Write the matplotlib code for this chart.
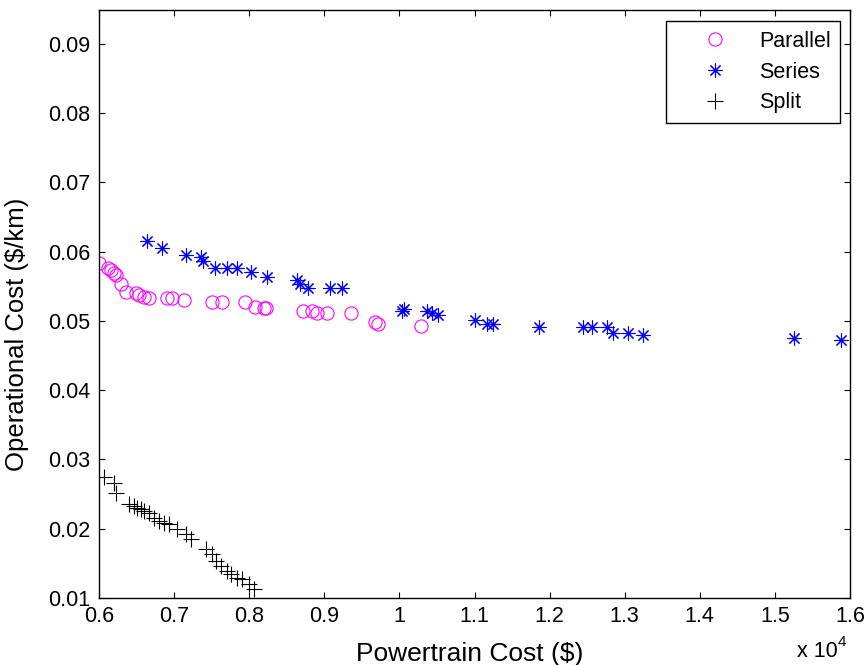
import numpy as np
import matplotlib
matplotlib.use("Agg")
import matplotlib.pyplot as plt

plt.rcParams['font.family'] = ['Liberation Sans', 'DejaVu Sans']

# powertrain cost in units of 1e4 $, operational cost in $/km
par_x = [0.600, 0.612, 0.616, 0.620, 0.623, 0.629, 0.636, 0.649, 0.653, 0.660,
         0.667, 0.691, 0.697, 0.713, 0.750, 0.764, 0.794, 0.808, 0.820, 0.823,
         0.871, 0.883, 0.890, 0.903, 0.936, 0.967, 0.971, 1.029]
par_y = [0.0583, 0.0577, 0.0573, 0.0569, 0.0566, 0.0554, 0.0542, 0.0540, 0.0538, 0.0535,
         0.0533, 0.0533, 0.0533, 0.0530, 0.0527, 0.0527, 0.0527, 0.0520, 0.0518, 0.0518,
         0.0514, 0.0515, 0.0512, 0.0512, 0.0512, 0.0498, 0.0496, 0.0492]

ser_x = [0.664, 0.684, 0.716, 0.736, 0.739, 0.754, 0.770, 0.784, 0.803, 0.824,
         0.863, 0.867, 0.878, 0.907, 0.923, 1.003, 1.006, 1.037, 1.043, 1.051,
         1.101, 1.117, 1.125, 1.186, 1.245, 1.257, 1.277, 1.284, 1.304, 1.324,
         1.525, 1.588]
ser_y = [0.0615, 0.0606, 0.0595, 0.0592, 0.0586, 0.0576, 0.0576, 0.0577, 0.0570, 0.0563,
         0.0559, 0.0553, 0.0548, 0.0548, 0.0547, 0.0514, 0.0517, 0.0514, 0.0511, 0.0508,
         0.0501, 0.0496, 0.0495, 0.0491, 0.0491, 0.0491, 0.0491, 0.0483, 0.0482, 0.0480,
         0.0475, 0.0472]

spl_x = [0.607, 0.620, 0.623, 0.640, 0.647, 0.651, 0.656, 0.660, 0.667, 0.673,
         0.680, 0.687, 0.693, 0.704, 0.716, 0.723, 0.743, 0.750, 0.756, 0.763,
         0.770, 0.776, 0.784, 0.791, 0.800, 0.807]
spl_y = [0.0274, 0.0266, 0.0252, 0.0236, 0.0233, 0.0230, 0.0229, 0.0226, 0.0222, 0.0216,
         0.0211, 0.0208, 0.0207, 0.0200, 0.0193, 0.0185, 0.0171, 0.0164, 0.0154, 0.0146,
         0.0139, 0.0135, 0.0129, 0.0127, 0.0120, 0.0113]

xticks = [0.6, 0.7, 0.8, 0.9, 1.0, 1.1, 1.2, 1.3, 1.4, 1.5, 1.6]
yticks = [0.01, 0.02, 0.03, 0.04, 0.05, 0.06, 0.07, 0.08, 0.09]

fig = plt.figure(figsize=(8.67, 6.65), dpi=100)
ax = fig.add_axes([0.1142, 0.1008, 0.8662, 0.8842])

ax.plot(par_x, par_y, 'o', mfc='none', mec=(1, 0, 1), ms=9.5, mew=0.8, label='Parallel')
ax.plot(ser_x, ser_y, ls='none', marker=(8, 2, 0), color=(0, 0, 1), ms=10, mew=0.8, label='Series')
ax.plot(spl_x, spl_y, '+', color='k', ms=12, mew=0.8, label='Split')

ax.set_xlim(0.6, 1.6)
ax.set_ylim(0.01, 0.0949)
ax.set_xticks(xticks)
ax.set_xticklabels(['%g' % t for t in xticks])
ax.set_yticks(yticks)
ax.set_yticklabels(['%g' % t for t in yticks])
ax.tick_params(direction='in', top=True, right=True, length=4, width=0.8,
               labelsize=15.5, pad=6)
for s in ax.spines.values():
    s.set_linewidth(1.0)

ax.set_xlabel('Powertrain Cost ($)', fontsize=19)
ax.set_ylabel('Operational Cost ($/km)', fontsize=18.5)
ax.xaxis.set_label_coords(0.494, -0.075)
ax.yaxis.set_label_coords(-0.093, 0.449)

fig.text(0.919, 0.005, 'x 10', fontsize=15.5, ha='left', va='bottom')
fig.text(0.966, 0.024, '4', fontsize=11, ha='left', va='bottom')

leg = ax.legend(loc='upper right', bbox_to_anchor=(0.987, 0.981), fontsize=15.5,
                fancybox=False, edgecolor='k', framealpha=1, borderpad=0.45,
                borderaxespad=0, labelspacing=0.45, handletextpad=0.25, handlelength=3.6)
leg.get_frame().set_linewidth(1.0)

fig.savefig('out.png', dpi=100)
